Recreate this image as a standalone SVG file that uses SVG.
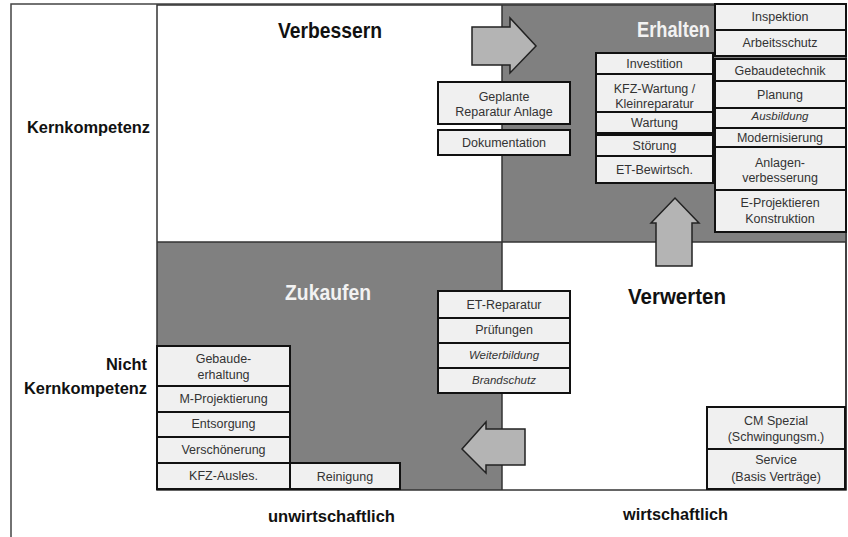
<svg xmlns="http://www.w3.org/2000/svg" width="848" height="537" viewBox="0 0 848 537">
  <style>
    .frame { fill: none; stroke: #444; stroke-width: 1.5; }
    .grid { stroke: #333; stroke-width: 1.5; fill: none; }
    .dark { fill: #808080; }
    .box rect { fill: #f0f0f0; stroke: #111; stroke-width: 2; }
    .box text { font-family: "Liberation Sans", Arial, sans-serif; font-size: 12.5px; fill: #333; text-anchor: middle; }
    .box text.it { font-style: italic; font-size: 11.5px; }
    .title { font-family: "Liberation Sans", Arial, sans-serif; font-weight: bold; font-size: 22px; text-anchor: middle; }
    .axis { font-family: "Liberation Sans", Arial, sans-serif; font-weight: bold; font-size: 17px; fill: #111; }
    .arrow { fill: #b4b4b4; stroke: #222; stroke-width: 1.5; stroke-linejoin: miter; }
  </style>

  <!-- outer frame -->
  <path class="frame" d="M11,537 V4 H846 V490"/>

  <!-- quadrants -->
  <g id="quadrants">
    <rect class="dark" x="502" y="5" width="344" height="237"/>
    <rect class="dark" x="157" y="242" width="345" height="248"/>
    <rect class="grid" x="157" y="5" width="689" height="485"/>
    <line class="grid" x1="502" y1="5" x2="502" y2="490"/>
    <line class="grid" x1="157" y1="242" x2="846" y2="242"/>
  </g>

  <!-- quadrant titles -->
  <text class="title" x="330" y="38" fill="#111" textLength="104" lengthAdjust="spacingAndGlyphs">Verbessern</text>
  <text class="title" x="673.5" y="37" fill="#f2f2f2" textLength="73" lengthAdjust="spacingAndGlyphs">Erhalten</text>
  <text class="title" x="328" y="300" fill="#f2f2f2" textLength="86" lengthAdjust="spacingAndGlyphs">Zukaufen</text>
  <text class="title" x="677" y="304" fill="#111" textLength="98" lengthAdjust="spacingAndGlyphs">Verwerten</text>

  <!-- axis labels -->
  <text class="axis" x="27" y="133" textLength="123" lengthAdjust="spacingAndGlyphs">Kernkompetenz</text>
  <text class="axis" x="106" y="370" textLength="41" lengthAdjust="spacingAndGlyphs">Nicht</text>
  <text class="axis" x="24" y="394" textLength="123" lengthAdjust="spacingAndGlyphs">Kernkompetenz</text>
  <text class="axis" x="268" y="522" textLength="127" lengthAdjust="spacingAndGlyphs">unwirtschaftlich</text>
  <text class="axis" x="623" y="520" textLength="105" lengthAdjust="spacingAndGlyphs">wirtschaftlich</text>

  <!-- transition arrows -->
  <g id="connectors">
    <path class="arrow" d="M472,27 H510 V18 L536,46 L510,73 V65 H472 Z"/>
    <path class="arrow" d="M656,266 V223 H651 L675,198 L699,223 H692 V266 Z"/>
    <path class="arrow" d="M525,429 H486 V422 L462,449 L486,473 V465 H525 Z"/>
  </g>

  <!-- Verbessern -->
  <g id="geplante-reparatur" class="box">
    <rect x="438" y="82" width="132" height="42"/>
    <text x="504" y="101">Geplante</text>
    <text x="504" y="116">Reparatur Anlage</text>
  </g>
  <g id="dokumentation" class="box">
    <rect x="438" y="130" width="132" height="25"/>
    <text x="504" y="147">Dokumentation</text>
  </g>

  <!-- Erhalten, inner column -->
  <g id="investition" class="box">
    <rect x="596" y="53" width="117" height="21"/>
    <text x="654.5" y="68">Investition</text>
  </g>
  <g id="kfz-wartung" class="box">
    <rect x="596" y="74" width="117" height="38"/>
    <text x="654.5" y="93">KFZ-Wartung /</text>
    <text x="654.5" y="108">Kleinreparatur</text>
  </g>
  <g id="wartung" class="box">
    <rect x="596" y="112" width="117" height="21"/>
    <text x="654.5" y="127">Wartung</text>
  </g>
  <g id="stoerung" class="box">
    <rect x="596" y="135" width="117" height="21"/>
    <text x="654.5" y="150">Störung</text>
  </g>
  <g id="et-bewirtsch" class="box">
    <rect x="596" y="156" width="117" height="27"/>
    <text x="654.5" y="174">ET-Bewirtsch.</text>
  </g>

  <!-- Erhalten, outer column -->
  <g id="inspektion" class="box">
    <rect x="715" y="4" width="131" height="26"/>
    <text x="780" y="21">Inspektion</text>
  </g>
  <g id="arbeitsschutz" class="box">
    <rect x="715" y="30" width="131" height="26"/>
    <text x="780" y="47">Arbeitsschutz</text>
  </g>
  <g id="gebaudetechnik" class="box">
    <rect x="715" y="59" width="131" height="22"/>
    <text x="780" y="75">Gebaudetechnik</text>
  </g>
  <g id="planung" class="box">
    <rect x="715" y="81" width="131" height="27"/>
    <text x="780" y="99">Planung</text>
  </g>
  <g id="ausbildung" class="box">
    <rect x="715" y="108" width="131" height="20"/>
    <text class="it" x="780" y="120">Ausbildung</text>
  </g>
  <g id="modernisierung" class="box">
    <rect x="715" y="128" width="131" height="19"/>
    <text x="780" y="142">Modernisierung</text>
  </g>
  <g id="anlagenverbesserung" class="box">
    <rect x="715" y="147" width="131" height="43"/>
    <text x="780" y="167">Anlagen-</text>
    <text x="780" y="182">verbesserung</text>
  </g>
  <g id="e-projektieren" class="box">
    <rect x="715" y="190" width="131" height="42"/>
    <text x="780" y="207">E-Projektieren</text>
    <text x="780" y="223">Konstruktion</text>
  </g>

  <!-- Zukaufen / Verwerten boundary -->
  <g id="et-reparatur" class="box">
    <rect x="438" y="291" width="132" height="27"/>
    <text x="504" y="309">ET-Reparatur</text>
  </g>
  <g id="pruefungen" class="box">
    <rect x="438" y="318" width="132" height="25"/>
    <text x="504" y="334">Prüfungen</text>
  </g>
  <g id="weiterbildung" class="box">
    <rect x="438" y="343" width="132" height="25"/>
    <text class="it" x="504" y="359">Weiterbildung</text>
  </g>
  <g id="brandschutz" class="box">
    <rect x="438" y="368" width="132" height="25"/>
    <text class="it" x="504" y="384">Brandschutz</text>
  </g>

  <!-- Zukaufen -->
  <g id="gebaudeerhaltung" class="box">
    <rect x="157" y="346" width="133" height="40"/>
    <text x="223.5" y="363">Gebaude-</text>
    <text x="223.5" y="379">erhaltung</text>
  </g>
  <g id="m-projektierung" class="box">
    <rect x="157" y="386" width="133" height="26"/>
    <text x="223.5" y="403">M-Projektierung</text>
  </g>
  <g id="entsorgung" class="box">
    <rect x="157" y="412" width="133" height="25"/>
    <text x="223.5" y="428">Entsorgung</text>
  </g>
  <g id="verschoenerung" class="box">
    <rect x="157" y="437" width="133" height="26"/>
    <text x="223.5" y="454">Verschönerung</text>
  </g>
  <g id="kfz-ausles" class="box">
    <rect x="157" y="463" width="133" height="26"/>
    <text x="223.5" y="480">KFZ-Ausles.</text>
  </g>
  <g id="reinigung" class="box">
    <rect x="290" y="463" width="110" height="26"/>
    <text x="345" y="481">Reinigung</text>
  </g>

  <!-- Verwerten -->
  <g id="cm-spezial" class="box">
    <rect x="707" y="407" width="138" height="42"/>
    <text x="776" y="425">CM Spezial</text>
    <text x="776" y="441">(Schwingungsm.)</text>
  </g>
  <g id="service" class="box">
    <rect x="707" y="449" width="138" height="40"/>
    <text x="776" y="464">Service</text>
    <text x="776" y="481">(Basis Verträge)</text>
  </g>
</svg>
